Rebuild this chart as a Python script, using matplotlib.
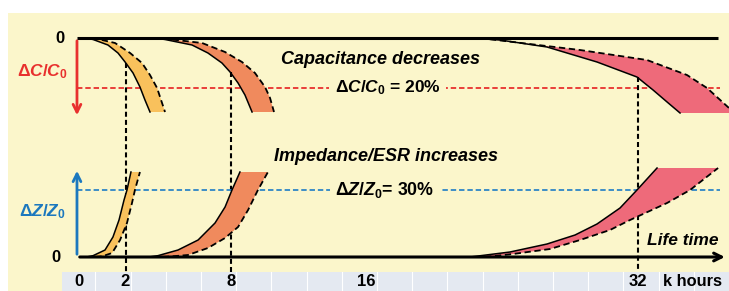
import numpy as np
import matplotlib.pyplot as plt
from matplotlib.patches import Rectangle

plt.rcParams['font.family'] = ['Liberation Sans', 'DejaVu Sans']
plt.rcParams['mathtext.fontset'] = 'custom'
plt.rcParams['mathtext.it'] = 'Liberation Sans:italic:bold'
plt.rcParams['mathtext.rm'] = 'Liberation Sans:bold'

# ---- data (x in k hours along the schematic life-time axis, y in %) ----
tick_labels = ['0', '2', '8', '16', '32']
tick_pos = [0.06, 2.72, 8.84, 16.65, 32.37]

# where the 30 % impedance rise is reached -> vertical markers
marker_pos = [2.76, 8.84, 32.37]
marker_top = [9.8, 13.6, 15.6]      # dC/C0 at the marker (top curve)

dc_limit = 20   # %
dz_limit = 30   # %

# capacitance drop, solid (fast) and dashed (slow) edges of each band
c_yel_sx = [0.40, 0.87, 1.73, 2.31, 2.72, 3.18, 3.58, 3.87, 4.16]
c_yel_sy = [0, 0.6, 2.8, 6.0, 9.6, 14.0, 19.6, 24.8, 29.6]
c_yel_dx = [0.81, 1.27, 2.14, 3.01, 3.70, 4.16, 4.57, 4.80, 5.03]
c_yel_dy = [0, 0.6, 2.0, 6.0, 10.0, 14.8, 20.0, 24.8, 29.6]

c_ora_sx = [4.40, 5.03, 6.59, 7.51, 8.32, 8.79, 9.25, 9.65, 10.06]
c_ora_sy = [0, 0.6, 2.8, 6.0, 10.0, 13.6, 18.0, 22.8, 29.6]
c_ora_dx = [4.90, 5.43, 7.17, 8.50, 9.48, 10.23, 10.81, 11.10, 11.33]
c_ora_dy = [0, 0.6, 2.0, 5.6, 9.6, 14.0, 19.6, 24.0, 29.6]

c_pnk_sx = [22.66, 24.39, 27.11, 30.00, 32.31, 33.24, 34.05, 34.80]
c_pnk_sy = [0, 0.8, 3.6, 9.6, 15.6, 20.8, 25.6, 30]
c_pnk_dx = [23.24, 25.14, 29.02, 32.89, 35.20, 36.36, 37.63, 38.15]
c_pnk_dy = [0, 1.6, 4.8, 8.8, 14.8, 20.0, 28.0, 30]

# impedance rise
z_yel_sx = [0.50, 0.87, 1.56, 2.02, 2.37, 2.66, 2.83, 3.06]
z_yel_sy = [0, 0.6, 3.13, 8.96, 16.57, 25.53, 30.0, 38.06]
z_yel_dx = [1.00, 1.39, 1.97, 2.43, 2.83, 3.12, 3.29, 3.58]
z_yel_dy = [0, 0.3, 1.79, 7.61, 15.23, 24.18, 30.0, 38.06]

z_ora_sx = [4.10, 4.62, 5.78, 6.94, 7.92, 8.50, 8.90, 9.36]
z_ora_sy = [0, 0.6, 3.13, 7.61, 15.23, 22.39, 30.0, 38.06]
z_ora_dx = [4.90, 5.43, 6.36, 7.51, 8.50, 9.25, 9.83, 10.40, 10.98]
z_ora_dy = [0, 0.3, 0.90, 4.03, 8.51, 13.43, 21.05, 30.0, 38.06]

z_pnk_sx = [22.66, 24.97, 27.11, 28.73, 30.00, 31.33, 32.31, 33.47]
z_pnk_sy = [0, 2.24, 5.82, 9.85, 14.78, 21.94, 30.0, 39.85]
z_pnk_dx = [23.53, 25.14, 27.28, 29.02, 30.75, 31.91, 34.05, 35.38, 37.00]
z_pnk_dy = [0, 1.34, 3.58, 7.61, 12.09, 16.57, 24.18, 30.0, 39.85]

# ---- colours ----
bg_col = '#FBF6CB'
strip_col = '#E4E9F1'
yel = '#F9C15C'
ora = '#F08A5D'
pnk = '#EE6A7A'
red = '#E8302E'
blue = '#1C78BE'

fig = plt.figure(figsize=(7.29, 2.91), dpi=100)
xlim = (-4.51, 37.63)

bg = fig.add_axes([0, 0, 1, 1])
bg.set_xlim(*xlim)
bg.set_ylim(0, 1)
bg.axis('off')
bg.add_patch(Rectangle((0.011, 0), 0.989, 0.955, transform=bg.transAxes,
                       color=bg_col, lw=0, zorder=0))
bg.add_patch(Rectangle((0.085, 0), 0.915, 0.065, transform=bg.transAxes,
                       color=strip_col, lw=0, zorder=1))
for s in np.arange(1.0, 37.0, 2.035):
    bg.plot([s, s], [0, 0.065], color='white', lw=0.8, zorder=1)
for p, lab in zip(tick_pos, tick_labels):
    bg.text(p, 0.031, lab, ha='center', va='center', fontsize=12,
            fontweight='bold', zorder=5)
bg.text(35.5, 0.031, 'k hours', ha='center', va='center', fontsize=11.8,
        fontweight='bold', zorder=5)

# capacitance panel (y inverted, % drop)
ax_c = fig.add_axes([0, 0, 1, 1], facecolor='none')
ax_c.set_xlim(*xlim)
ax_c.set_ylim(101.2, -15.2)
ax_c.axis('off')

# impedance panel
ax_z = fig.add_axes([0, 0, 1, 1], facecolor='none')
ax_z.set_xlim(*xlim)
ax_z.set_ylim(-15.22, 115.07)
ax_z.axis('off')


def band(ax, sx, sy, dx, dy, col):
    ax.fill(np.r_[sx, dx[::-1]], np.r_[sy, dy[::-1]], color=col, lw=0, zorder=2)
    ax.plot(sx, sy, color='black', lw=1.1, zorder=3)
    ax.plot(dx, dy, color='black', lw=1.3, dashes=(3.5, 2), zorder=3)


band(ax_c, c_yel_sx, c_yel_sy, c_yel_dx, c_yel_dy, yel)
band(ax_c, c_ora_sx, c_ora_sy, c_ora_dx, c_ora_dy, ora)
band(ax_c, c_pnk_sx, c_pnk_sy, c_pnk_dx, c_pnk_dy, pnk)
band(ax_z, z_yel_sx, z_yel_sy, z_yel_dx, z_yel_dy, yel)
band(ax_z, z_ora_sx, z_ora_sy, z_ora_dx, z_ora_dy, ora)
band(ax_z, z_pnk_sx, z_pnk_sy, z_pnk_dx, z_pnk_dy, pnk)

# baselines and arrows
ax_c.plot([-0.06, 36.99], [0, 0], color='black', lw=2.2, zorder=4,
          solid_capstyle='butt')
ax_c.annotate('', xy=(-0.06, 32), xytext=(-0.06, 0),
              arrowprops=dict(arrowstyle='->', lw=2, color=red, mutation_scale=14))
ax_z.annotate('', xy=(37.55, 0), xytext=(-0.06, 0), zorder=4,
              arrowprops=dict(arrowstyle='->', lw=2.2, color='black', mutation_scale=14))
ax_z.annotate('', xy=(-0.06, 39.85), xytext=(-0.06, 0),
              arrowprops=dict(arrowstyle='->', lw=2, color=blue, mutation_scale=14))

# limit lines
ax_c.plot([-0.06, 37.1], [dc_limit, dc_limit], color=red, lw=1.3,
          dashes=(3, 1.6), zorder=1)
ax_z.plot([-0.06, 37.1], [dz_limit, dz_limit], color='#2F86C6', lw=1.3,
          dashes=(3, 1.6), zorder=1)

# vertical markers down to the tick strip
strip_top = ax_c.transData.inverted().transform(
    bg.transAxes.transform((0, 0.065)))[1]
for p, t in zip(marker_pos, marker_top):
    ax_c.plot([p, p], [t, strip_top], color='black', lw=1.5, dashes=(2.4, 1.5),
              zorder=4)

# texts
ax_c.text(-1.04, 0, '0', ha='center', va='center', fontsize=12, fontweight='bold')
ax_z.text(-1.27, 0, '0', ha='center', va='center', fontsize=12, fontweight='bold')
ax_c.text(-2.08, 13.6, r'$\mathit{ΔC/C_0}$', ha='center', va='center',
          fontsize=12.5, color=red)
ax_z.text(-2.08, 20.15, r'$\mathit{ΔZ/Z_0}$', ha='center', va='center',
          fontsize=12.5, color=blue)
ax_c.text(17.46, 8.4, 'Capacitance decreases', ha='center', va='center',
          fontsize=13, fontweight='bold', fontstyle='italic', zorder=5)
ax_c.text(17.9, dc_limit, r'$\mathit{ΔC/C_0}$' + ' = 20%', ha='center',
          va='center', fontsize=12.5, fontweight='bold', zorder=5,
          bbox=dict(facecolor=bg_col, edgecolor='none', pad=4))
ax_z.text(17.8, 45.2, 'Impedance/ESR increases', ha='center', va='center',
          fontsize=13, fontweight='bold', fontstyle='italic', zorder=5)
ax_z.text(17.75, dz_limit, r'$\mathit{ΔZ/Z_0}$' + '= 30%', ha='center',
          va='center', fontsize=12.8, fontweight='bold', zorder=5,
          bbox=dict(facecolor=bg_col, edgecolor='none', pad=4))
ax_z.text(34.97, 7.6, 'Life time', ha='center', va='center', fontsize=12.5,
          fontweight='bold', fontstyle='italic', zorder=5)

fig.savefig('out.png', dpi=100)
